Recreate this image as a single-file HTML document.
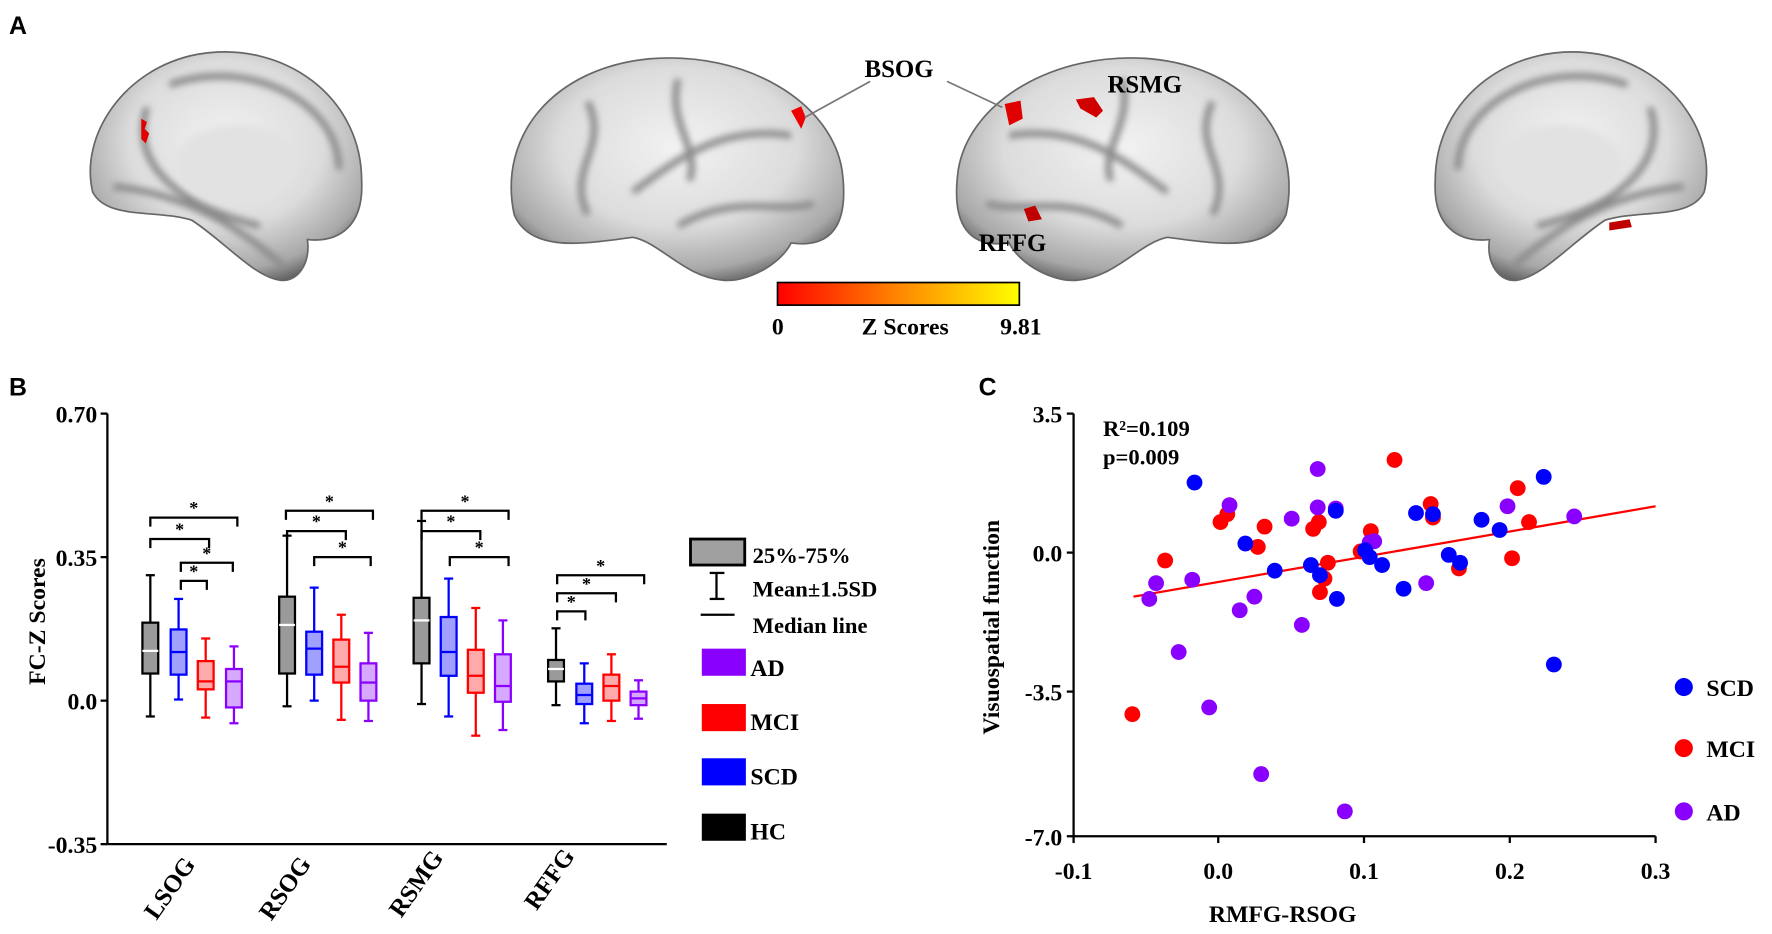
<!DOCTYPE html>
<html><head><meta charset="utf-8"><style>
html,body{margin:0;padding:0;background:#fff;}
svg{display:block;}
text{font-family:"Liberation Serif",serif;font-weight:bold;fill:#000;}
.sans{font-family:"Liberation Sans",sans-serif;}
</style></head><body>
<svg id="s" width="1772" height="934" viewBox="0 0 1568 826.5" xmlns="http://www.w3.org/2000/svg">
<defs>
<radialGradient id="bg" cx="0.5" cy="0.4" r="0.65">
<stop offset="0" stop-color="#f2f2f2"/><stop offset="0.55" stop-color="#dcdcdc"/><stop offset="0.85" stop-color="#a8a8a8"/><stop offset="1" stop-color="#555"/>
</radialGradient>
<linearGradient id="cb" x1="0" x2="1"><stop offset="0" stop-color="#ff0000"/><stop offset="0.45" stop-color="#ff7a00"/><stop offset="1" stop-color="#ffff00"/></linearGradient>
<filter id="bl"><feGaussianBlur stdDeviation="3"/></filter>
</defs>
<rect width="1568" height="826.5" fill="#fff"/>
<text class="sans" x="8" y="30" font-size="22">A</text>
<text class="sans" x="8" y="350" font-size="22">B</text>
<text class="sans" x="866" y="350" font-size="22">C</text>

<g id="b1">
<path d="M82,170 C70,120 110,60 175,48 C250,35 320,85 320,160 C322,200 300,215 272,212 C275,235 262,250 248,248 C225,245 200,215 170,195 C140,185 95,195 82,170 Z" fill="url(#bg)" stroke="#666" stroke-width="1.5"/>
<g filter="url(#bl)" stroke="#8a8a8a" stroke-width="6" fill="none">
<path d="M130,95 C115,140 150,180 230,200"/><path d="M150,75 C220,50 300,90 300,150"/><path d="M100,165 C150,170 200,190 250,235"/>
</g>
<ellipse cx="210" cy="145" rx="55" ry="35" fill="#e2e2e2" filter="url(#bl)"/>
<path d="M125,105 l5,3 l-2,6 l4,4 l-3,9 l-4,-4 z" fill="#e00000"/>
</g>
<g id="b2">
<path d="M455,190 C440,120 490,60 575,52 C660,45 735,90 745,150 C752,200 735,220 700,215 C690,235 660,250 640,248 C605,245 585,215 560,210 C520,215 470,225 455,190Z" fill="url(#bg)" stroke="#666" stroke-width="1.5"/>
<g filter="url(#bl)" stroke="#8a8a8a" stroke-width="6" fill="none">
<path d="M520,90 C540,130 500,150 520,190"/><path d="M560,170 C600,140 640,110 700,120"/><path d="M600,70 C590,110 620,130 610,160"/><path d="M600,200 C650,170 690,190 720,180"/>
</g>
<path d="M700,98 l9,-4 l4,10 l-4,10 z" fill="#ee0000"/>
</g>
<g transform="translate(1593,0) scale(-1,1)">
<path d="M455,190 C440,120 490,60 575,52 C660,45 735,90 745,150 C752,200 735,220 700,215 C690,235 660,250 640,248 C605,245 585,215 560,210 C520,215 470,225 455,190Z" fill="url(#bg)" stroke="#666" stroke-width="1.5"/>
<g filter="url(#bl)" stroke="#8a8a8a" stroke-width="6" fill="none">
<path d="M520,90 C540,130 500,150 520,190"/><path d="M560,170 C600,140 640,110 700,120"/><path d="M600,70 C590,110 620,130 610,160"/><path d="M600,200 C650,170 690,190 720,180"/>
</g>
</g>
<path d="M889,92 l14,-3 l2,16 l-12,6 z" fill="#e00000"/>
<path d="M952,88 l16,-2 l8,12 l-6,6 l-14,-8 z" fill="#d00000"/>
<path d="M906,185 l10,-3 l6,12 l-12,2 z" fill="#c00000"/>
<g transform="translate(1590,0) scale(-1,1)">
<path d="M82,170 C70,120 110,60 175,48 C250,35 320,85 320,160 C322,200 300,215 272,212 C275,235 262,250 248,248 C225,245 200,215 170,195 C140,185 95,195 82,170 Z" fill="url(#bg)" stroke="#666" stroke-width="1.5"/>
<g filter="url(#bl)" stroke="#8a8a8a" stroke-width="6" fill="none">
<path d="M130,95 C115,140 150,180 230,200"/><path d="M150,75 C220,50 300,90 300,150"/><path d="M100,165 C150,170 200,190 250,235"/>
</g>
<ellipse cx="210" cy="145" rx="55" ry="35" fill="#e2e2e2" filter="url(#bl)"/>
</g>
<path d="M1424,197 l18,-3 l2,7 l-20,3 z" fill="#c00000"/>
<line x1="770" y1="72" x2="712" y2="104" stroke="#777" stroke-width="1.5"/>
<line x1="838" y1="72" x2="887" y2="95" stroke="#777" stroke-width="1.5"/>
<text x="765" y="68" font-size="22">BSOG</text>
<text x="980" y="82" font-size="22">RSMG</text>
<text x="866" y="222" font-size="22">RFFG</text>
<rect x="688" y="250" width="214" height="20" fill="url(#cb)" stroke="#000" stroke-width="1.5"/>
<text x="683" y="296" font-size="21">0</text>
<text x="801" y="296" font-size="21" text-anchor="middle">Z Scores</text>
<text x="885" y="296" font-size="21">9.81</text>

<g stroke="#000" stroke-width="2" fill="none">
<line x1="95" y1="366" x2="95" y2="747"/>
<line x1="95" y1="747" x2="590" y2="747"/>
<line x1="89" y1="366" x2="95" y2="366"/><line x1="89" y1="493" x2="95" y2="493"/><line x1="89" y1="620" x2="95" y2="620"/><line x1="89" y1="747" x2="95" y2="747"/>
</g>
<text x="86" y="374" font-size="21" text-anchor="end">0.70</text>
<text x="86" y="501" font-size="21" text-anchor="end">0.35</text>
<text x="86" y="628" font-size="21" text-anchor="end">0.0</text>
<text x="86" y="755" font-size="21" text-anchor="end">-0.35</text>
<text transform="translate(40,550) rotate(-90)" font-size="21" text-anchor="middle">FC-Z Scores</text>
<g id="boxes"></g>
<text transform="translate(156,790) rotate(-55)" font-size="22" text-anchor="middle">LSOG</text>
<text transform="translate(258,790) rotate(-55)" font-size="22" text-anchor="middle">RSOG</text>
<text transform="translate(374,786) rotate(-55)" font-size="22" text-anchor="middle">RSMG</text>
<text transform="translate(492,782) rotate(-55)" font-size="22" text-anchor="middle">RFFG</text>

<rect x="611" y="477" width="48" height="23" fill="#a0a0a0" stroke="#000" stroke-width="2.5"/>
<text x="666" y="498" font-size="20">25%-75%</text>
<g stroke="#000" stroke-width="2"><line x1="634" y1="507" x2="634" y2="530"/><line x1="628" y1="507" x2="641" y2="507"/><line x1="628" y1="530" x2="641" y2="530"/><line x1="620" y1="544" x2="650" y2="544"/></g>
<text x="666" y="528" font-size="20">Mean±1.5SD</text>
<text x="666" y="560" font-size="20">Median line</text>
<rect x="621" y="574" width="39" height="24" fill="#8a00ff"/><text x="664" y="598" font-size="21">AD</text>
<rect x="621" y="623" width="39" height="24" fill="#ff0000"/><text x="664" y="646" font-size="21">MCI</text>
<rect x="621" y="671" width="39" height="24" fill="#0000ff"/><text x="664" y="694" font-size="21">SCD</text>
<rect x="621" y="720" width="39" height="24" fill="#000"/><text x="664" y="743" font-size="21">HC</text>

<g stroke="#000" stroke-width="2">
<line x1="950" y1="366" x2="950" y2="740"/><line x1="950" y1="740" x2="1465" y2="740"/>
<line x1="944" y1="366" x2="950" y2="366"/><line x1="944" y1="489" x2="950" y2="489"/><line x1="944" y1="612" x2="950" y2="612"/><line x1="944" y1="740" x2="950" y2="740"/>
<line x1="950" y1="740" x2="950" y2="746"/><line x1="1078" y1="740" x2="1078" y2="746"/><line x1="1207" y1="740" x2="1207" y2="746"/><line x1="1336" y1="740" x2="1336" y2="746"/><line x1="1465" y1="740" x2="1465" y2="746"/>
</g>
<text x="940" y="374" font-size="21" text-anchor="end">3.5</text>
<text x="940" y="497" font-size="21" text-anchor="end">0.0</text>
<text x="940" y="620" font-size="21" text-anchor="end">-3.5</text>
<text x="940" y="748" font-size="21" text-anchor="end">-7.0</text>
<text x="950" y="778" font-size="21" text-anchor="middle">-0.1</text>
<text x="1078" y="778" font-size="21" text-anchor="middle">0.0</text>
<text x="1207" y="778" font-size="21" text-anchor="middle">0.1</text>
<text x="1336" y="778" font-size="21" text-anchor="middle">0.2</text>
<text x="1465" y="778" font-size="21" text-anchor="middle">0.3</text>
<text x="1135" y="816" font-size="21" text-anchor="middle">RMFG-RSOG</text>
<text transform="translate(884,555) rotate(-90)" font-size="21" text-anchor="middle">Visuospatial function</text>
<text x="976" y="386" font-size="20">R²=0.109</text>
<text x="976" y="411" font-size="20">p=0.009</text>
<line x1="1003" y1="528" x2="1465" y2="448" stroke="#ff0000" stroke-width="2"/>
<g id="pts"></g>
<circle cx="1490" cy="608" r="8" fill="#0000ff"/><text x="1510" y="616" font-size="21">SCD</text>
<circle cx="1490" cy="662" r="8" fill="#ff0000"/><text x="1510" y="670" font-size="21">MCI</text>
<circle cx="1490" cy="718" r="8" fill="#8a00ff"/><text x="1510" y="726" font-size="21">AD</text>
</svg>
<script>
var NS="http://www.w3.org/2000/svg";
function el(p,t,a){var e=document.createElementNS(NS,t);for(var k in a)e.setAttribute(k,a[k]);p.appendChild(e);return e;}
var B=document.getElementById("boxes");
var cols=[["#000","#9a9a9a","#fff"],["#0000ff","#a0a0ff","#0000ff"],["#ff0000","#ffaaaa","#ff0000"],["#8a00ff","#d6a8ff","#8a00ff"]];
var xs=[[133,158,182,207],[254,278,302,326],[373,397,421,445],[492,517,541,565]];
var d=[
[[509,551,576,596,634],[530,557,577,597,619],[565,585,603,610,635],[572,592,603,626,640]],
[[474,528,553,596,625],[520,559,574,597,620],[544,566,590,604,637],[560,587,604,620,638]],
[[461,529,549,587,623],[512,546,577,598,634],[538,575,598,613,651],[549,579,607,621,646]],
[[556,584,592,603,624],[587,605,615,623,640],[579,597,607,620,638],[602,612,618,624,636]]];
for(var g=0;g<4;g++)for(var i=0;i<4;i++){var x=xs[g][i],v=d[g][i],c=cols[i],w=7;
el(B,"line",{x1:x,y1:v[0],x2:x,y2:v[4],stroke:c[0],"stroke-width":2});
el(B,"line",{x1:x-4,y1:v[0],x2:x+4,y2:v[0],stroke:c[0],"stroke-width":2});
el(B,"line",{x1:x-4,y1:v[4],x2:x+4,y2:v[4],stroke:c[0],"stroke-width":2});
el(B,"rect",{x:x-w,y:v[1],width:2*w,height:v[3]-v[1],fill:c[1],stroke:c[0],"stroke-width":2});
el(B,"line",{x1:x-w,y1:v[2],x2:x+w,y2:v[2],stroke:c[2],"stroke-width":2});}
var br=[[133,210,458],[133,185,477],[160,206,498],[160,183,514],[253,330,452],[254,306,470],[278,328,493],[373,450,452],[373,425,470],[398,450,493],[493,570,509],[493,545,525],[493,518,541]];
br.forEach(function(b){el(B,"path",{d:"M"+b[0]+","+(b[2]+8)+"V"+b[2]+"H"+b[1]+"V"+(b[2]+8),fill:"none",stroke:"#000","stroke-width":2});
var t=el(B,"text",{x:(b[0]+b[1])/2,y:b[2]-3,"font-size":16,"text-anchor":"middle"});t.textContent="*";});
var P=document.getElementById("pts");
var pts={"#ff0000":[[1002,632],[1031,496],[1080,462],[1086,455],[1113,484],[1119,466],[1162,468],[1167,462],[1168,524],[1172,512],[1175,498],[1204,488],[1213,470],[1234,407],[1266,446],[1268,458],[1291,503],[1338,494],[1343,432],[1353,462]],
"#8a00ff":[[1017,530],[1023,516],[1055,513],[1043,577],[1070,626],[1088,447],[1097,540],[1110,528],[1116,685],[1143,459],[1152,553],[1166,415],[1166,449],[1182,450],[1190,718],[1212,480],[1216,479],[1262,516],[1334,448],[1393,457]],
"#0000ff":[[1057,427],[1102,481],[1128,505],[1160,500],[1168,509],[1182,452],[1183,530],[1208,487],[1212,493],[1223,500],[1242,521],[1253,454],[1268,455],[1282,491],[1292,498],[1311,460],[1327,469],[1366,422],[1375,588]]};
for(var c in pts)pts[c].forEach(function(p){el(P,"circle",{cx:p[0],cy:p[1],r:7,fill:c});});
</script>
</body></html>
